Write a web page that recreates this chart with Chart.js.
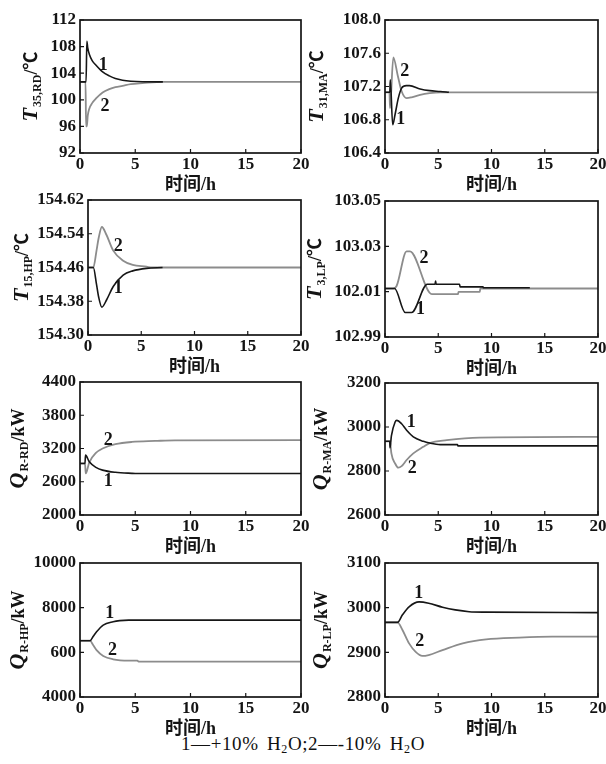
<!DOCTYPE html>
<html><head><meta charset="utf-8">
<script src="https://cdn.jsdelivr.net/npm/chart.js@4.4.1/dist/chart.umd.min.js"></script>
<style>
html,body{margin:0;padding:0;background:#fff;}
body{width:606px;height:764px;position:relative;overflow:hidden;}
.pane{position:absolute;}
#note{position:absolute;left:0;width:606px;top:733px;text-align:center;font:19px 'Liberation Serif',serif;color:#111;white-space:nowrap;letter-spacing:0.6px;word-spacing:3px;}
#note sub{font-size:12px;vertical-align:-3px;}
</style></head><body>
<div id="note">1—+10% H<sub>2</sub>O;2—-10% H<sub>2</sub>O</div>
<script>
// ---------- shared ----------
const timeTitle = '时间/h';
const xTicks = [0, 5, 10, 15, 20];
const seriesNames = ['+10% H2O', '-10% H2O'];

// ---------- panel 1 : T35,RD ----------
const p1_t1 = [0, 0.55, 0.62, 0.7, 0.85, 1.1, 1.45, 2.05, 2.65, 3.2, 3.85, 4.6, 5.65, 7.5];
const p1_v1 = [102.7, 102.7, 108.8, 107.8, 106.8, 105.9, 105.2, 104.2, 103.6, 103.2, 102.95, 102.8, 102.72, 102.7];
const p1_t2 = [0, 0.5, 0.55, 0.62, 0.7, 0.85, 1.1, 1.45, 2.05, 2.65, 3.2, 3.85, 4.6, 5.65, 7.5, 20];
const p1_v2 = [102.7, 102.7, 96.0, 96.0, 97.6, 98.7, 99.5, 100.2, 101.1, 101.6, 101.9, 102.1, 102.35, 102.5, 102.7, 102.7];
const p1_yTicks = [92, 96, 100, 104, 108, 112];
const p1_yLabels = ['92', '96', '100', '104', '108', '112'];
const p1_marks = [[2.1, 105.2, '1'], [2.26, 99.0, '2']];

// ---------- panel 2 : T31,MA ----------
const p2_t1 = [0, 0.45, 0.5, 0.72, 0.94, 1.25, 1.56, 2.0, 2.3, 3.3, 4.2, 5.2, 6.0];
const p2_v1 = [107.13, 107.13, 107.28, 106.74, 106.86, 107.06, 107.18, 107.21, 107.21, 107.17, 107.15, 107.14, 107.13];
const p2_t2 = [0, 0.42, 0.47, 0.78, 1.2, 1.57, 2.03, 2.5, 3.3, 4.2, 5.2, 9.5, 20];
const p2_v2 = [107.13, 107.13, 106.94, 107.55, 107.33, 107.14, 107.06, 107.07, 107.10, 107.12, 107.13, 107.13, 107.13];
const p2_yTicks = [106.4, 106.8, 107.2, 107.6, 108.0];
const p2_yLabels = ['106.4', '106.8', '107.2', '107.6', '108.0'];
const p2_marks = [[1.47, 106.8, '1'], [1.85, 107.38, '2']];

// ---------- panel 3 : T15,HP ----------
const p3_t1 = [0, 0.5, 0.8, 1.0, 1.3, 1.74, 2.37, 3.3, 4.2, 5.5, 7.0];
const p3_v1 = [154.46, 154.46, 154.42, 154.39, 154.366, 154.383, 154.415, 154.442, 154.452, 154.458, 154.46];
const p3_t2 = [0, 0.5, 0.8, 1.0, 1.3, 1.74, 2.37, 3.3, 4.2, 5.5, 6.0, 20];
const p3_v2 = [154.46, 154.46, 154.50, 154.53, 154.556, 154.537, 154.50, 154.476, 154.466, 154.462, 154.46, 154.46];
const p3_yTicks = [154.30, 154.38, 154.46, 154.54, 154.62];
const p3_yLabels = ['154.30', '154.38', '154.46', '154.54', '154.62'];
const p3_marks = [[2.83, 154.411, '1'], [2.83, 154.509, '2']];

// ---------- panel 4 : T3,LP ----------
const p4_t1 = [0, 0.9, 1.9, 2.5, 3.97, 4.7, 4.75, 4.8, 7.0, 7.05, 9.2, 9.25, 13.6];
const p4_v1 = [103.0114, 103.0114, 103.0008, 103.0008, 103.0133, 103.0133, 103.0147, 103.0133, 103.0133, 103.0121, 103.0121, 103.0117, 103.0117];
const p4_t2 = [0, 0.78, 1.09, 2.03, 2.34, 4.4, 6.85, 6.9, 8.9, 8.95, 20];
const p4_v2 = [103.0114, 103.0114, 103.0125, 103.0278, 103.0278, 103.0089, 103.0089, 103.0099, 103.0099, 103.0114, 103.0114];
const p4_yTicks = [102.99, 103.01, 103.03, 103.05];
const p4_yLabels = ['102.99', '102.01', '103.03', '103.05'];
const p4_marks = [[3.34, 103.0023, '1'], [3.66, 103.0247, '2']];

// ---------- panel 5 : Q R-RD ----------
const p5_t1 = [0, 0.45, 0.5, 0.84, 1.44, 2.04, 3.2, 4.7, 5.0, 20];
const p5_v1 = [2930, 2930, 3080, 2960, 2860, 2810, 2770, 2752, 2750, 2750];
const p5_t2 = [0, 0.45, 0.52, 0.84, 1.44, 2.04, 3.2, 4.7, 6.8, 8.6, 20];
const p5_v2 = [2930, 2930, 2750, 2950, 3120, 3200, 3277, 3318, 3336, 3348, 3350];
const p5_yTicks = [2000, 2600, 3200, 3800, 4400];
const p5_yLabels = ['2000', '2600', '3200', '3800', '4400'];
const p5_marks = [[2.55, 2600, '1'], [2.55, 3350, '2']];

// ---------- panel 6 : Q R-MA ----------
const p6_t1 = [0, 0.45, 0.47, 0.6, 0.95, 1.1, 1.56, 2.03, 2.66, 3.6, 4.2, 5.2, 6.8, 6.85, 20];
const p6_v1 = [2935, 2935, 2905, 2960, 3023, 3030, 3015, 2985, 2955, 2935, 2927, 2920, 2920, 2914, 2914];
const p6_t2 = [0, 0.45, 0.5, 0.6, 0.95, 1.25, 1.56, 2.03, 2.66, 3.6, 4.2, 5.8, 8.9, 20];
const p6_v2 = [2935, 2935, 2925, 2880, 2834, 2815, 2822, 2850, 2880, 2910, 2927, 2940, 2952, 2955];
const p6_yTicks = [2600, 2800, 3000, 3200];
const p6_yLabels = ['2600', '2800', '3000', '3200'];
const p6_marks = [[2.46, 3023, '1'], [2.56, 2811, '2']];

// ---------- panel 7 : Q R-HP ----------
const p7_t1 = [0, 0.9, 1.2, 1.5, 2.1, 3.0, 3.6, 4.4, 20];
const p7_v1 = [6520, 6520, 6720, 6920, 7220, 7370, 7420, 7440, 7440];
const p7_t2 = [0, 0.9, 1.2, 1.5, 2.1, 3.0, 4.4, 5.2, 5.3, 20];
const p7_v2 = [6520, 6520, 6320, 6100, 5840, 5690, 5630, 5625, 5585, 5585];
const p7_yTicks = [4000, 6000, 8000, 10000];
const p7_yLabels = ['4000', '600', '8000', '10000'];
const p7_marks = [[2.7, 7747, '1'], [2.95, 6104, '2']];

// ---------- panel 8 : Q R-LP ----------
const p8_t1 = [0, 1.17, 1.64, 2.26, 3.2, 4.1, 5.4, 6.6, 7.9, 9.5, 20];
const p8_v1 = [2967, 2967, 2984, 3002, 3013, 3010, 3001, 2995, 2991, 2990, 2989];
const p8_t2 = [0, 1.17, 1.64, 2.26, 2.88, 3.5, 4.1, 5.4, 7.3, 9.5, 12.6, 15.7, 20];
const p8_v2 = [2967, 2967, 2950, 2920, 2901, 2892, 2894, 2905, 2920, 2929, 2933, 2935, 2935];
const p8_yTicks = [2800, 2900, 3000, 3100];
const p8_yLabels = ['2800', '2900', '3000', '3100'];
const p8_marks = [[3.18, 3033, '1'], [3.27, 2924, '2']];

// ---------- y-axis titles (symbol, subscript, unit) ----------
const yTitles = [
  ['T', '35,RD', '/℃'], ['T', '31,MA', '/℃'], ['T', '15,HP', '/℃'], ['T', '3,LP', '/℃'],
  ['Q', 'R-RD', '/kW'], ['Q', 'R-MA', '/kW'], ['Q', 'R-HP', '/kW'], ['Q', 'R-LP', '/kW']
];

// ---------- page layout (plot-area boxes, title baseline x) ----------
const boxes = [
  {L: 80, T: 20, R: 301, B: 153, tx: 37},
  {L: 385, T: 20, R: 598, B: 153, tx: 323},
  {L: 88, T: 200, R: 301, B: 335, tx: 28},
  {L: 385, T: 201, R: 598, B: 337, tx: 321},
  {L: 80, T: 382, R: 301, B: 515, tx: 24},
  {L: 385, T: 383, R: 598, B: 515, tx: 327},
  {L: 80, T: 563, R: 301, B: 697, tx: 24},
  {L: 385, T: 563, R: 598, B: 697, tx: 327}
];

const panels = [
  [p1_t1, p1_v1, p1_t2, p1_v2, p1_yTicks, p1_yLabels, p1_marks],
  [p2_t1, p2_v1, p2_t2, p2_v2, p2_yTicks, p2_yLabels, p2_marks],
  [p3_t1, p3_v1, p3_t2, p3_v2, p3_yTicks, p3_yLabels, p3_marks],
  [p4_t1, p4_v1, p4_t2, p4_v2, p4_yTicks, p4_yLabels, p4_marks],
  [p5_t1, p5_v1, p5_t2, p5_v2, p5_yTicks, p5_yLabels, p5_marks],
  [p6_t1, p6_v1, p6_t2, p6_v2, p6_yTicks, p6_yLabels, p6_marks],
  [p7_t1, p7_v1, p7_t2, p7_v2, p7_yTicks, p7_yLabels, p7_marks],
  [p8_t1, p8_v1, p8_t2, p8_v2, p8_yTicks, p8_yLabels, p8_marks]
];

const SERIF = "'Liberation Serif','Noto Sans CJK SC',serif";
const UNITF = "'Liberation Serif','Noto Sans CJK SC',serif";
const INK = '#141414';
const BLACK = '#161616';
const GRAY = '#8c8c8c';
const AXW = 80, PADT = 15, PADR = 12, XH = 45;

function pts(t, v) { return t.map((x, i) => ({x: x, y: v[i]})); }

panels.forEach((p, idx) => {
  const [t1, v1, t2, v2, yTicks, yLabels, marks] = p;
  const b = boxes[idx];
  const div = document.createElement('div');
  div.className = 'pane';
  const left = b.L - AXW, top = b.T - PADT;
  div.style.left = left + 'px';
  div.style.top = top + 'px';
  div.style.width = (b.R - b.L + AXW + PADR) + 'px';
  div.style.height = (b.B - b.T + PADT + XH) + 'px';
  const cv = document.createElement('canvas');
  div.appendChild(cv);
  document.body.appendChild(div);

  const deco = {
    id: 'deco' + idx,
    afterDatasetsDraw(chart) {
      const ctx = chart.ctx, a = chart.chartArea;
      const xs = chart.scales.x, ys = chart.scales.y;
      ctx.save();
      // inward tick marks
      ctx.strokeStyle = INK; ctx.lineWidth = 1.2;
      ctx.beginPath();
      ys.ticks.forEach(tk => {
        const y = ys.getPixelForValue(tk.value);
        ctx.moveTo(a.left, y); ctx.lineTo(a.left + 4, y);
      });
      xs.ticks.forEach(tk => {
        const x = xs.getPixelForValue(tk.value);
        ctx.moveTo(x, a.bottom); ctx.lineTo(x, a.bottom - 4);
      });
      ctx.stroke();
      // frame
      ctx.lineWidth = 1.7;
      ctx.strokeRect(a.left, a.top, a.right - a.left, a.bottom - a.top);
      // curve numbers
      ctx.fillStyle = INK;
      ctx.font = 'bold 18px ' + SERIF;
      ctx.textAlign = 'center'; ctx.textBaseline = 'middle';
      marks.forEach(m => ctx.fillText(m[2], xs.getPixelForValue(m[0]), ys.getPixelForValue(m[1])));
      // y title with subscript, rotated
      const parts = yTitles[idx];
      const fonts = ['italic bold 22px ' + SERIF, 'bold 12px ' + SERIF, 'bold 18px ' + UNITF];
      const offs = [0, 4, 0];
      let widths = parts.map((s, i) => { ctx.font = fonts[i]; return ctx.measureText(s).width; });
      const total = widths.reduce((s, w) => s + w, 0) + 1;
      const cx = b.tx - left, cy = (a.top + a.bottom) / 2;
      ctx.translate(cx, cy);
      ctx.rotate(-Math.PI / 2);
      ctx.textAlign = 'left'; ctx.textBaseline = 'alphabetic';
      let x = -total / 2;
      parts.forEach((s, i) => {
        ctx.font = fonts[i];
        ctx.fillText(s, x, offs[i]);
        x += widths[i] + (i === 0 ? 1 : 0);
      });
      ctx.restore();
    }
  };

  new Chart(cv, {
    type: 'line',
    data: {
      datasets: [
        {label: seriesNames[0], data: pts(t1, v1), borderColor: BLACK, borderWidth: 1.6},
        {label: seriesNames[1], data: pts(t2, v2), borderColor: GRAY, borderWidth: 1.8}
      ]
    },
    options: {
      responsive: true, maintainAspectRatio: false, animation: false,
      layout: {padding: {left: 0, top: PADT, right: PADR, bottom: 0}},
      plugins: {legend: {display: false}, tooltip: {enabled: false}},
      elements: {point: {radius: 0}, line: {cubicInterpolationMode: 'monotone', fill: false}},
      scales: {
        x: {
          type: 'linear', min: 0, max: 20,
          afterBuildTicks: s => { s.ticks = xTicks.map(v => ({value: v})); },
          afterFit: s => { s.height = XH; },
          ticks: {color: INK, padding: 1, maxRotation: 0, autoSkip: false,
                  font: {family: SERIF, size: 17, weight: 'bold'}},
          grid: {display: false, drawTicks: false},
          border: {display: false},
          title: {display: true, text: timeTitle, color: INK,
                  font: {family: SERIF, size: 18, weight: 'bold'}, padding: {top: 0, bottom: 2}}
        },
        y: {
          type: 'linear', min: yTicks[0], max: yTicks[yTicks.length - 1],
          afterBuildTicks: s => { s.ticks = yTicks.map(v => ({value: v})); },
          afterFit: s => { s.width = AXW; },
          ticks: {color: INK, padding: 4, autoSkip: false,
                  font: {family: SERIF, size: 17, weight: 'bold'},
                  callback: (v, i) => yLabels[i]},
          grid: {display: false, drawTicks: false},
          border: {display: false}
        }
      }
    },
    plugins: [deco]
  });
});
</script>
</body></html>
